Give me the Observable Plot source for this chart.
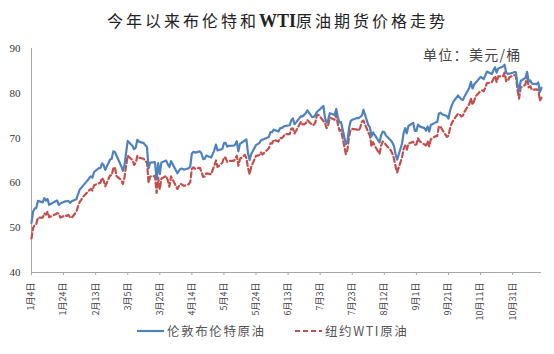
<!DOCTYPE html>
<html><head><meta charset="utf-8">
<script src="https://cdn.jsdelivr.net/npm/d3@7"></script>
<script src="https://cdn.jsdelivr.net/npm/@observablehq/plot@0.6"></script>
<style>
body{margin:0;background:#fff;font-family:"Noto Sans CJK SC",sans-serif;}
#wrap{position:relative;width:554px;height:354px;overflow:hidden;background:#fff}
#title{position:absolute;left:107px;top:9px;white-space:nowrap;font-size:16px;line-height:22px;color:#222;letter-spacing:3px}
#title b{font-family:"Liberation Serif",serif;font-size:18px;letter-spacing:0;font-weight:bold}
#unit{position:absolute;left:423px;top:45px;white-space:nowrap;font-size:14px;line-height:18px;color:#444;letter-spacing:1.3px}
#chart{position:absolute;left:0;top:36px}
#legend{position:absolute;left:0;top:321px;width:554px;height:20px;font-size:12.5px;line-height:20px;color:#555;letter-spacing:1.6px}
.item{position:absolute;top:0;display:flex;align-items:center;white-space:nowrap}
</style>
</head><body>
<div id="wrap">
  <div id="title">今年以来布伦特和<b>WTI</b>原油期货价格走势</div>
  <div id="chart"></div>
  <div id="unit">单位：美元/桶</div>
  <div id="legend"></div>
</div>
<script>
// trading days (2021, month-day)
const days = [
 "01-04","01-05","01-06","01-07","01-08","01-11","01-12","01-13","01-14","01-15","01-19","01-20","01-21","01-22","01-25","01-26","01-27","01-28","01-29",
 "02-01","02-02","02-03","02-04","02-05","02-08","02-09","02-10","02-11","02-12","02-15","02-16","02-17","02-18","02-19","02-22","02-23","02-24","02-25","02-26",
 "03-01","03-02","03-03","03-04","03-05","03-08","03-09","03-10","03-11","03-12","03-15","03-16","03-17","03-18","03-19","03-22","03-23","03-24","03-25","03-26","03-29","03-30","03-31",
 "04-01","04-05","04-06","04-07","04-08","04-09","04-12","04-13","04-14","04-15","04-16","04-19","04-20","04-21","04-22","04-23","04-26","04-27","04-28","04-29","04-30",
 "05-03","05-04","05-05","05-06","05-07","05-10","05-11","05-12","05-13","05-14","05-17","05-18","05-19","05-20","05-21","05-24","05-25","05-26","05-27","05-28",
 "06-01","06-02","06-03","06-04","06-07","06-08","06-09","06-10","06-11","06-14","06-15","06-16","06-17","06-18","06-21","06-22","06-23","06-24","06-25","06-28","06-29","06-30",
 "07-01","07-02","07-05","07-06","07-07","07-08","07-09","07-12","07-13","07-14","07-15","07-16","07-19","07-20","07-21","07-22","07-23","07-26","07-27","07-28","07-29","07-30",
 "08-02","08-03","08-04","08-05","08-06","08-09","08-10","08-11","08-12","08-13","08-16","08-17","08-18","08-19","08-20","08-23","08-24","08-25","08-26","08-27","08-30","08-31",
 "09-01","09-02","09-03","09-06","09-07","09-08","09-09","09-10","09-13","09-14","09-15","09-16","09-17","09-20","09-21","09-22","09-23","09-24","09-27","09-28","09-29","09-30",
 "10-01","10-04","10-05","10-06","10-07","10-08","10-11","10-12","10-13","10-14","10-15","10-18","10-19","10-20","10-21","10-22","10-25","10-26","10-27","10-28","10-29",
 "11-01","11-02","11-03","11-04","11-05","11-08","11-09","11-10","11-11","11-12","11-15","11-16","11-17","11-18"
];
const brent = [
 51.09,53.60,54.30,54.38,55.99,55.66,56.58,56.06,56.42,55.10,55.90,56.08,55.10,55.41,55.88,55.91,56.00,55.53,55.88,
 56.35,57.46,58.46,58.84,59.34,60.56,61.09,61.47,61.14,62.43,63.30,63.35,64.34,63.93,62.91,65.24,65.37,67.04,66.88,66.13,
 63.69,62.70,64.07,66.74,69.36,68.24,67.52,67.90,69.63,69.22,68.88,68.39,68.00,63.28,64.53,64.62,60.79,64.41,61.95,64.57,64.98,64.14,63.54,
 64.86,62.15,62.74,63.16,63.20,62.95,63.28,63.67,66.58,66.94,66.77,67.05,66.57,65.32,65.40,66.11,65.65,66.42,67.27,68.56,67.25,
 67.56,68.88,68.96,68.09,68.28,68.32,68.55,69.32,67.05,68.71,69.46,69.71,66.66,65.11,66.44,68.46,68.65,68.87,69.46,69.63,
 70.25,71.35,71.31,71.89,71.49,72.22,72.22,72.52,72.69,72.86,73.99,74.39,73.08,73.51,74.90,74.81,75.19,75.56,76.18,74.68,74.76,75.13,
 75.84,76.17,77.16,74.53,73.43,74.12,75.55,75.16,76.49,74.76,73.47,73.59,68.62,69.35,72.23,73.79,74.10,74.50,74.48,74.74,75.05,76.33,
 72.89,72.41,70.38,71.29,70.70,69.04,70.63,71.44,71.31,70.59,69.51,69.03,68.23,66.45,65.18,68.75,71.05,72.25,71.07,72.70,73.41,71.63,
 71.59,73.03,72.61,72.22,71.69,72.60,71.45,72.92,73.51,73.60,75.46,75.67,75.34,74.92,74.36,76.19,77.25,78.09,79.53,79.09,78.64,78.52,
 79.28,81.26,82.56,81.08,81.95,82.39,83.65,83.42,83.18,84.00,84.86,84.33,85.08,85.82,84.61,85.53,85.99,86.40,84.58,84.32,84.38,
 84.71,84.72,81.99,80.54,82.74,83.43,84.78,82.64,82.87,82.17,82.05,82.43,80.28,81.24
];
const wti = [
 47.62,49.93,50.63,50.83,52.24,52.25,53.21,52.91,53.57,52.36,52.98,53.24,53.13,52.27,52.77,52.61,52.85,52.34,52.20,
 53.55,54.76,55.69,56.23,56.85,57.97,58.36,58.68,58.24,59.47,null,60.05,61.14,60.52,59.24,61.70,61.67,63.22,63.53,61.50,
 60.64,59.75,61.28,63.83,66.09,65.05,64.01,64.44,66.02,65.61,65.39,64.80,64.60,60.00,61.42,61.55,57.76,61.18,58.56,60.97,61.56,60.55,59.16,
 61.45,58.65,59.33,59.77,59.60,59.32,59.70,60.18,63.15,63.46,63.13,63.38,62.44,61.35,61.43,62.14,61.91,62.94,63.86,65.01,63.58,
 64.49,65.69,65.63,64.71,64.90,64.92,65.28,66.08,63.82,65.37,66.27,65.49,63.36,61.94,63.58,66.05,66.07,66.21,66.85,66.32,
 67.72,68.83,68.81,69.62,69.23,70.05,69.96,70.29,70.91,70.88,72.12,72.15,71.04,71.64,73.66,73.06,73.08,73.30,74.05,72.91,72.98,73.47,
 75.23,75.16,null,73.37,72.20,72.94,74.56,74.10,75.25,73.13,71.65,71.81,66.42,67.42,70.30,71.91,72.07,71.91,71.65,72.39,73.62,73.95,
 71.26,70.56,68.15,69.09,68.28,66.48,68.29,69.25,69.09,68.44,67.29,66.59,65.46,63.69,62.32,65.64,67.54,68.36,67.42,68.74,69.21,68.50,
 68.59,69.99,69.29,null,68.35,69.30,68.14,69.72,70.45,70.46,72.61,72.61,71.97,70.29,70.56,72.23,73.30,73.98,75.45,75.29,74.83,75.03,
 75.88,77.62,78.93,77.43,78.30,79.35,80.52,80.64,80.44,81.31,82.28,82.44,83.21,83.87,82.50,83.76,83.76,84.65,82.66,82.81,83.57,
 84.05,83.91,80.86,78.81,81.27,81.93,84.15,81.34,81.59,80.79,80.88,80.76,78.36,79.01
];
const xTickDays = ["01-04","01-24","02-13","03-05","03-25","04-14","05-04","05-24","06-13","07-03","07-23","08-12","09-01","09-21","10-11","10-31"];
const xTickLabels = ["1月4日","1月24日","2月13日","3月5日","3月25日","4月14日","5月4日","5月24日","6月13日","7月3日","7月23日","8月12日","9月1日","9月21日","10月11日","10月31日"];
const yTicks = [40,50,60,70,80,90];
const seriesNames = ["伦敦布伦特原油","纽约WTI原油"];
const colors = ["#4F81BD","#C0504D"];

const toDate = s => new Date("2021-" + s + "T00:00:00Z");
const brentData = days.map((d,i) => ({date: toDate(d), v: brent[i]}));
const wtiData = days.map((d,i) => ({date: toDate(d), v: wti[i]})).filter(d => d.v != null);
const tickDates = xTickDays.map(toDate);
const labelOf = new Map(tickDates.map((d,i) => [+d, xTickLabels[i]]));

const chart = Plot.plot({
  width: 554, height: 276,
  marginTop: 12, marginBottom: 40, marginLeft: 31, marginRight: 13,
  style: {background: "transparent", overflow: "visible"},
  x: {type: "utc", domain: [toDate(days[0]), toDate(days[days.length-1])]},
  y: {domain: [40, 90]},
  marks: [
    Plot.ruleY([40], {stroke: "#a6a6a6", strokeWidth: 1}),
    Plot.ruleX([toDate(days[0])], {stroke: "#a6a6a6", strokeWidth: 1}),
    Plot.axisY({ticks: yTicks, tickSize: 0, tickPadding: 11, fontSize: 11, fontFamily: "Liberation Serif, serif", color: "#333", label: null}),
    Plot.axisX({ticks: tickDates, tickFormat: d => labelOf.get(+d), tickRotate: -90, tickSize: 3, tickPadding: 7,
      fontSize: 9, fontFamily: "Noto Sans CJK SC, sans-serif", stroke: "#a6a6a6", fill: "#444", label: null}),
    Plot.line(wtiData, {x: "date", y: "v", stroke: colors[1], strokeWidth: 2.2, strokeDasharray: "5,3", curve: "linear"}),
    Plot.line(brentData, {x: "date", y: "v", stroke: colors[0], strokeWidth: 2.2, curve: "linear"})
  ]
});
document.getElementById("chart").appendChild(chart);

// legend
const legend = document.getElementById("legend");
const items = [
  {x: 137, name: seriesNames[0], color: colors[0], dash: null},
  {x: 295, name: seriesNames[1], color: colors[1], dash: "5,3"}
];
for (const it of items) {
  const div = document.createElement("div");
  div.className = "item";
  div.style.left = it.x + "px";
  div.innerHTML = `<svg width="27" height="20"><line x1="0" x2="27" y1="10" y2="10" stroke="${it.color}" stroke-width="2.2" ${it.dash ? `stroke-dasharray="${it.dash}"` : ""}/></svg><span style="margin-left:3px">${it.name}</span>`;
  legend.appendChild(div);
}
</script>
</body></html>
